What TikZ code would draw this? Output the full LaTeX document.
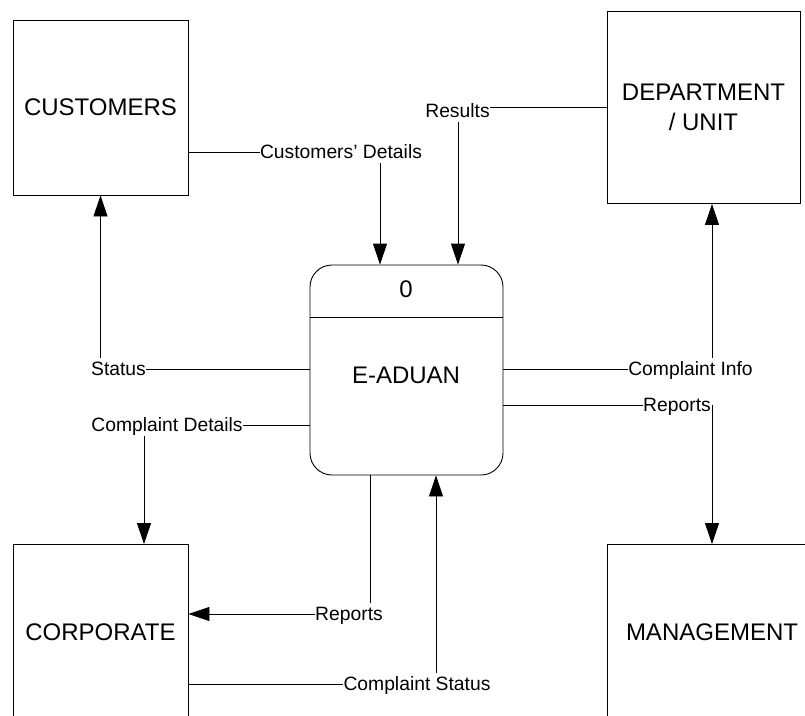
\documentclass[tikz,border=0pt]{standalone}
\usepackage{fontspec}
\setmainfont{Liberation Sans}
\usetikzlibrary{arrows.meta}

\begin{document}
\begin{tikzpicture}[x=1pt,y=-1pt,
  entity/.style={draw, line width=0.9pt, minimum width=175pt, minimum height=175pt,
    inner sep=0pt, align=center, font=\fontsize{24}{30}\selectfont},
  procbox/.style={draw, line width=0.9pt, rounded corners=22pt,
    minimum width=193pt, minimum height=210pt, inner sep=0pt},
  proctext/.style={inner sep=0pt, font=\fontsize{24}{30}\selectfont},
  flow/.style={inner sep=0pt, text height=17.8pt, text depth=4.2pt,
    font=\fontsize{19.3}{22}\selectfont},
  link/.style={line width=0.9pt},
  arr/.style={link, -{Triangle[length=21pt,width=14pt]}},
]
\useasboundingbox (0,0) rectangle (805,715);
\begin{scope}
\clip (0,0) rectangle (805,715);

% external entities
\node[entity] (cust) at (100.5,107.5) {CUSTOMERS};
\node[entity, minimum width=193pt, minimum height=192pt] (dept) at (703.5,107.5) {DEPARTMENT\\/ UNIT};
\node[entity] (corp) at (100.5,632) {CORPORATE};
\node[entity, minimum width=210pt] (mgmt) at (712,632) {MANAGEMENT};

% process
\node[procbox] (proc) at (406.5,370) {};
\coordinate (div) at (0,317.5);
\draw[link] (proc.west |- div) -- (proc.east |- div);
\node[proctext] (pid) at (406,289) {0};
\node[proctext] (pname) at (406,375) {E-ADUAN};

% x positions of the vertical flow segments
\coordinate (x144) at (144,0);
\coordinate (x370) at (370,0);
\coordinate (x380) at (380,0);
\coordinate (x436) at (436,0);
\coordinate (x458) at (458,0);
\coordinate (x712) at (712,0);

% flow labels
\node[flow] (cdet)  at (341,152)   {Customers’ Details};
\node[flow] (res)   at (457.5,111) {Results};
\node[flow] (stat)  at (118.5,369) {Status};
\node[flow] (cdl)   at (167,425)   {Complaint Details};
\node[flow] (cinfo) at (690.5,369) {Complaint Info};
\node[flow] (repr)  at (677,405)   {Reports};
\node[flow] (repb)  at (349,614)   {Reports};
\node[flow] (cstat) at (417,684)   {Complaint Status};

% Customers' Details
\draw[link] (cust.east |- cdet) -- (cdet.west);
\draw[arr] (cdet.south -| x380) -- (proc.north -| x380);

% Results
\draw[link] (dept.west) -- (res.east |- dept.west);
\draw[arr] (res.south -| x458) -- (proc.north -| x458);

% Status
\draw[link] (proc.west |- stat) -- (stat.east);
\draw[arr] (stat.north -| cust.south) -- (cust.south);

% Complaint Details
\draw[link] (proc.west |- cdl) -- (cdl.east);
\draw[arr] (cdl.south -| x144) -- (corp.north -| x144);

% Complaint Info
\draw[link] (proc.east |- cinfo) -- (cinfo.west);
\draw[arr] (cinfo.north -| x712) -- (dept.south -| x712);

% Reports to management
\draw[link] (proc.east |- repr) -- (repr.west);
\draw[arr] (repr.east -| x712) -- (mgmt.north -| x712);

% Reports to corporate
\draw[link] (proc.south -| x370) -- (repb.north -| x370);
\draw[arr] (repb.west) -- (corp.east |- repb.west);

% Complaint Status
\draw[link] (corp.east |- cstat) -- (cstat.west);
\draw[arr] (cstat.north -| x436) -- (proc.south -| x436);
\end{scope}
\end{tikzpicture}
\end{document}
